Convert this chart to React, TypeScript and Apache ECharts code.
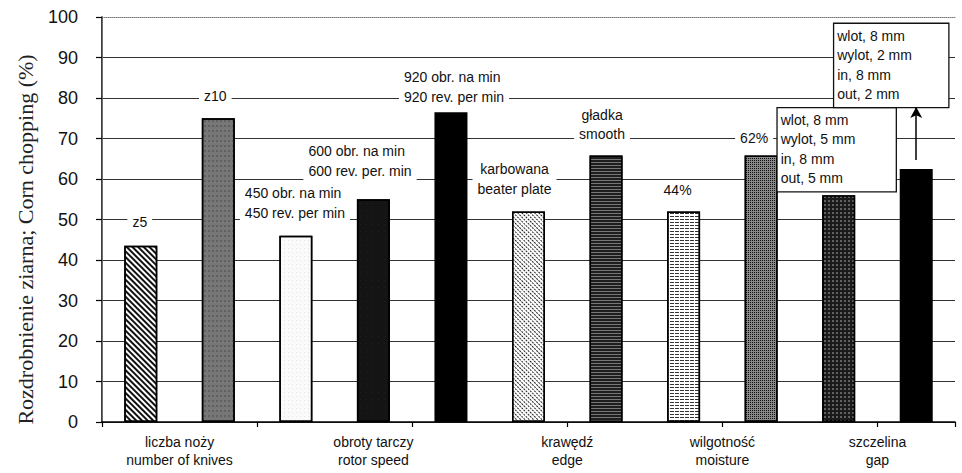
import React, { useEffect, useRef } from 'react';
import * as echarts from 'echarts';

// ---- data ----
const categories = ['z5', 'z10', '450', '600', '920', 'karbowana', 'gładka', '44%', '62%', 'wlot 8 / wylot 5', 'wlot 8 / wylot 2'];
const values = [43.5, 75, 46, 55, 76.5, 52, 65.8, 52, 65.8, 56, 62.5];
const barLabels = [
  'z5',
  'z10',
  '450 obr. na min\n450 rev. per min',
  '600 obr. na min\n600 rev. per. min',
  '920 obr. na min\n920 rev. per min',
  'karbowana\nbeater plate',
  'gładka\nsmooth',
  '44%',
  '62%',
  'wlot, 8 mm\nwylot, 5 mm\nin, 8 mm\nout, 5 mm',
  'wlot, 8 mm\nwylot, 2 mm\nin, 8 mm\nout, 2 mm',
];
const groupLabels = [
  'liczba noży\nnumber of knives',
  'obroty tarczy\nrotor speed',
  'krawędź\nedge',
  'wilgotność\nmoisture',
  'szczelina\ngap',
];
const groupLabelAt = [1, 3.5, 6, 8, 10];
const yMin = 0;
const yMax = 100;
const yStep = 10;
const yAxisTitle = 'Rozdrobnienie ziarna; Corn chopping (%)';
const arrowCategory = 10;
const arrowFrom = 64.7;
const arrowTo = 77.8;

// ---- styles ----
const SANS = '"Liberation Sans", Arial, Helvetica, sans-serif';
const SERIF = '"Liberation Serif", "Times New Roman", serif';

type LabelStyle = {
  distance: number;
  offset: [number, number];
  align?: 'left' | 'center';
  width?: number;
  box?: boolean;
  lineHeight?: number;
};

const labelStyles: LabelStyle[] = [
  { distance: 16, offset: [-1, 0] },
  { distance: 14, offset: [-3, 0] },
  { distance: 13, offset: [-56, 0], align: 'left', lineHeight: 20 },
  { distance: 18, offset: [-70, 0], align: 'left', lineHeight: 20 },
  { distance: 5, offset: [-52, 0], align: 'left', lineHeight: 20 },
  { distance: 12, offset: [-14, 0], lineHeight: 20 },
  { distance: 12, offset: [-4, 0], lineHeight: 19 },
  { distance: 13, offset: [-6, 0] },
  { distance: 10, offset: [-7, 0] },
  { distance: 4, offset: [-61, 0], align: 'left', width: 112, box: true, lineHeight: 19.5 },
  { distance: 62, offset: [-82, 0], align: 'left', width: 108, box: true, lineHeight: 19.5 },
];

const fills: any[] = [
  { color: '#ffffff', decal: { symbol: 'rect', symbolSize: 1, color: '#111', dashArrayX: [1, 0], dashArrayY: [2, 2], rotation: Math.PI / 4 } },
  { color: '#777777', decal: { symbol: 'circle', symbolSize: 0.6, color: '#333', dashArrayX: [2, 2], dashArrayY: [2, 3] } },
  { color: '#fafafa', decal: { symbol: 'rect', symbolSize: 0.5, color: '#aaa', dashArrayX: [1, 3], dashArrayY: [1, 3] } },
  { color: '#141414', decal: { symbol: 'rect', symbolSize: 0.5, color: '#444', dashArrayX: [1, 5], dashArrayY: [1, 6] } },
  { color: '#000000' },
  { color: '#ffffff', decal: { symbol: 'rect', symbolSize: 1, color: '#222', dashArrayX: [2, 1], dashArrayY: [1, 2], rotation: Math.PI / 4 } },
  { color: '#1e1e1e', decal: { symbol: 'rect', symbolSize: 1, color: '#777', dashArrayX: [1, 0], dashArrayY: [1, 2] } },
  { color: '#ffffff', decal: { symbol: 'rect', symbolSize: 1, color: '#333', dashArrayX: [4, 1], dashArrayY: [1, 2] } },
  { color: '#888888', decal: { symbol: 'rect', symbolSize: 1, color: '#111', dashArrayX: [1, 1], dashArrayY: [1, 1] } },
  { color: '#1a1a1a', decal: { symbol: 'circle', symbolSize: 0.7, color: '#ccc', dashArrayX: [2, 2], dashArrayY: [2, 2] } },
  { color: '#000000' },
];

export default function App() {
  const ref = useRef<HTMLDivElement>(null);

  useEffect(() => {
    if (!ref.current) return;
    const chart = echarts.init(ref.current, undefined, { renderer: 'svg' });

    const data = values.map((v, i) => {
      const ls = labelStyles[i];
      return {
        value: v,
        itemStyle: {
          color: fills[i].color,
          decal: fills[i].decal,
          borderColor: '#000',
          borderWidth: 1.5,
        },
        label: {
          show: true,
          position: 'top',
          distance: ls.distance,
          offset: ls.offset,
          align: ls.align || 'center',
          formatter: barLabels[i],
          fontFamily: SANS,
          fontSize: 14,
          color: '#111',
          lineHeight: ls.lineHeight || 16,
          backgroundColor: '#fff',
          padding: ls.box ? [2, 3, 3, 3] : [0, 5],
          borderColor: ls.box ? '#111' : 'transparent',
          borderWidth: ls.box ? 1.3 : 0,
          width: ls.width,
        },
      };
    });

    const groupMap: Record<string, string> = {};
    groupLabelAt.forEach((p, i) => {
      groupMap[String(p)] = groupLabels[i];
    });

    const splitColors = Array.from({ length: (yMax - yMin) / yStep + 1 }, () => '#333');

    chart.setOption({
      animation: false,
      backgroundColor: '#fff',
      grid: { left: 102, right: 7, top: 17, bottom: 51, containLabel: false },
      xAxis: [
        {
          type: 'category',
          data: categories,
          position: 'bottom',
          axisLine: { show: true, lineStyle: { color: '#000', width: 1.5 } },
          axisTick: { show: true, length: 5, lineStyle: { color: '#000', width: 1.2 } },
          axisLabel: { show: false },
          splitLine: { show: false },
        },
        {
          type: 'value',
          min: 0,
          max: categories.length,
          interval: 0.5,
          position: 'bottom',
          axisLine: { show: false },
          axisTick: { show: false },
          splitLine: { show: false },
          axisLabel: {
            show: true,
            margin: 11,
            fontFamily: SANS,
            fontSize: 14,
            lineHeight: 18,
            color: '#111',
            formatter: (v: number) => groupMap[String(v)] || '',
          },
        },
        {
          type: 'value',
          min: 0,
          max: categories.length,
          position: 'top',
          axisLine: { show: true, lineStyle: { color: '#777', type: 'dotted', width: 1 } },
          axisTick: { show: false },
          axisLabel: { show: false },
          splitLine: { show: false },
        },
      ],
      yAxis: [
        {
          type: 'value',
          min: yMin,
          max: yMax,
          interval: yStep,
          position: 'left',
          name: yAxisTitle,
          nameLocation: 'middle',
          nameGap: 66,
          nameTextStyle: {
            fontFamily: SERIF,
            fontSize: 22,
            color: '#222',
            padding: [0, 40, 0, 0],
          },
          axisLine: { show: true, lineStyle: { color: '#000', width: 1.5 } },
          axisTick: { show: true, length: 6, lineStyle: { color: '#000', width: 1.2 } },
          axisLabel: { fontFamily: SANS, fontSize: 18, color: '#111', margin: 24 },
          splitLine: { show: true, showMaxLine: false, lineStyle: { color: splitColors, width: 1.2 } },
        },
        {
          type: 'value',
          min: yMin,
          max: yMax,
          interval: yStep,
          position: 'right',
          axisLine: { show: true, lineStyle: { color: '#777', type: 'dotted', width: 1 } },
          axisTick: { show: false },
          axisLabel: { show: false },
          splitLine: { show: false },
        },
      ],
      series: [
        {
          type: 'bar',
          xAxisIndex: 0,
          yAxisIndex: 0,
          barWidth: 33,
          data,
          markLine: {
            silent: true,
            symbol: ['none', 'arrow'],
            symbolSize: [9, 11],
            label: { show: false },
            lineStyle: { color: '#000', width: 1.5, type: 'solid' },
            data: [
              [
                { coord: [arrowCategory, arrowFrom] },
                { coord: [arrowCategory, arrowTo] },
              ],
            ],
          },
        },
      ],
    });

    return () => chart.dispose();
  }, []);

  return (
    <div
      ref={ref}
      style={{ position: 'absolute', left: 0, top: 0, width: 962, height: 473 }}
    />
  );
}
